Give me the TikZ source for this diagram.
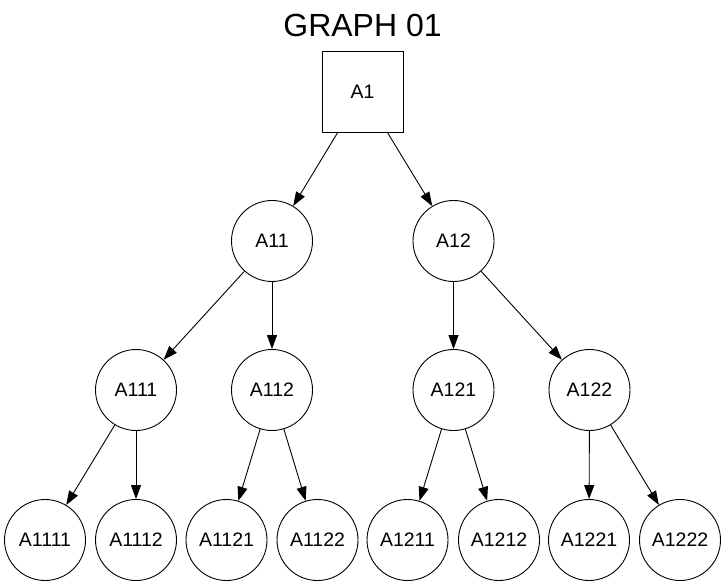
\documentclass[tikz,border=0pt]{standalone}
\usepackage{fontspec}
\setmainfont{Liberation Sans}
\usetikzlibrary{arrows.meta}

\tikzset{
    vertex/.style={draw,circle,minimum size=81pt,inner sep=0pt,line width=0.9pt,font=\fontsize{19.5}{21}\selectfont},
    rootbox/.style={draw,rectangle,minimum size=81pt,inner sep=0pt,line width=0.9pt,font=\fontsize{19.5}{21}\selectfont},
    edge/.style={line width=0.9pt,-{Triangle[length=14pt,width=10pt]}}
}

\begin{document}
\begin{tikzpicture}[x=1pt,y=1pt]
        % Canvas
        \useasboundingbox (0,0) rectangle (725,587);
        \node (title) at (362.5,562) {\fontsize{32}{34}\selectfont GRAPH 01};
        % Root
        \node[rootbox] (A1) at (362.5,495.5) {A1};
        % Level 1
        \node[vertex] (A11) at (272,346) {A11};
        \node[vertex] (A12) at (453.5,346) {A12};
        % Level 2
        \node[vertex] (A111) at (136,197) {A111};
        \node[vertex] (A112) at (272,197) {A112};
        \node[vertex] (A121) at (453.5,197) {A121};
        \node[vertex] (A122) at (589.5,197) {A122};
        % Leaves
        \node[vertex] (A1111) at (45,47) {A1111};
        \node[vertex] (A1112) at (136,47) {A1112};
        \node[vertex] (A1121) at (226.5,47) {A1121};
        \node[vertex] (A1122) at (317.5,47) {A1122};
        \node[vertex] (A1211) at (407.5,47) {A1211};
        \node[vertex] (A1212) at (499,47) {A1212};
        \node[vertex] (A1221) at (589,47) {A1221};
        \node[vertex] (A1222) at (680,47) {A1222};
        % Edges
        \draw[edge] (A1) -- (A11);
        \draw[edge] (A1) -- (A12);
        \draw[edge] (A11) -- (A111);
        \draw[edge] (A11) -- (A112);
        \draw[edge] (A12) -- (A121);
        \draw[edge] (A12) -- (A122);
        \draw[edge] (A111) -- (A1111);
        \draw[edge] (A111) -- (A1112);
        \draw[edge] (A112) -- (A1121);
        \draw[edge] (A112) -- (A1122);
        \draw[edge] (A121) -- (A1211);
        \draw[edge] (A121) -- (A1212);
        \draw[edge] (A122) -- (A1221);
        \draw[edge] (A122) -- (A1222);
\end{tikzpicture}
\end{document}
